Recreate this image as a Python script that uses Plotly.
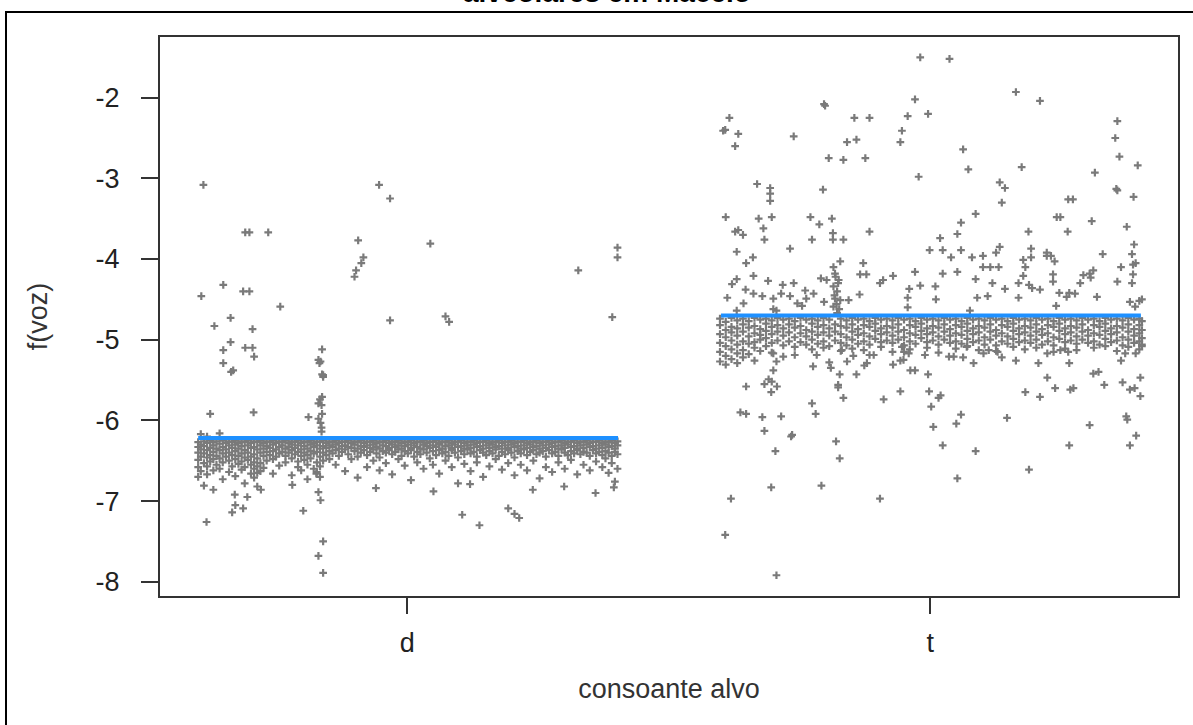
import plotly.graph_objects as go

# ---------------- data ----------------
categories = ["d", "t"]
cat_pos = [1, 2]
y_ticks = [-8, -7, -6, -5, -4, -3, -2]
group_means = [-6.22, -4.70]
jitter_span = [-0.40, 0.403]

# d : dense band beneath the mean (offset, values)
d_band = [
    (-0.400, [-6.27, -6.33, -6.40, -6.49, -6.58, -6.70]),
    (-0.395, [-6.17, -6.30, -6.36, -6.45, -6.63]),
    (-0.389, [-6.26, -6.32, -6.41, -6.53, -6.81]),
    (-0.383, [-6.20, -6.28, -6.37, -6.46, -6.57, -6.67]),
    (-0.377, [-6.25, -6.34, -6.43, -6.51]),
    (-0.371, [-6.27, -6.31, -6.39, -6.48, -6.62, -6.86]),
    (-0.365, [-6.26, -6.35, -6.44, -6.55]),
    (-0.359, [-6.16, -6.29, -6.37, -6.47, -6.60]),
    (-0.353, [-6.25, -6.33, -6.41, -6.52, -6.73]),
    (-0.347, [-6.28, -6.36, -6.45]),
    (-0.341, [-6.26, -6.31, -6.40, -6.50, -6.64]),
    (-0.335, [-6.27, -6.34, -6.43, -6.57]),
    (-0.329, [-6.25, -6.30, -6.38, -6.48, -6.69, -7.05]),
    (-0.323, [-6.28, -6.35, -6.44, -6.54]),
    (-0.317, [-6.26, -6.32, -6.41, -6.51, -6.61]),
    (-0.311, [-6.27, -6.37, -6.46, -6.58, -6.78]),
    (-0.305, [-6.25, -6.31, -6.40, -6.49]),
    (-0.299, [-6.28, -6.34, -6.45, -6.55, -6.66]),
    (-0.293, [-6.26, -6.33, -6.42, -6.52, -6.60, -6.71]),
    (-0.287, [-6.27, -6.36, -6.47, -6.57, -6.65, -6.82]),
    (-0.281, [-6.25, -6.31, -6.40, -6.53, -6.63]),
    (-0.275, [-6.28, -6.35, -6.44, -6.59]),
    (-0.269, [-6.26, -6.32, -6.39, -6.50]),
    (-0.263, [-6.27, -6.34, -6.43]),
    (-0.257, [-6.25, -6.30, -6.38, -6.48, -6.66]),
    (-0.251, [-6.28, -6.36, -6.45]),
    (-0.245, [-6.26, -6.33, -6.41, -6.56]),
    (-0.239, [-6.27, -6.31, -6.39]),
    (-0.233, [-6.25, -6.35, -6.44, -6.52]),
    (-0.227, [-6.28, -6.33, -6.40]),
    (-0.221, [-6.26, -6.30, -6.37, -6.47, -6.68]),
    (-0.215, [-6.27, -6.34, -6.42]),
    (-0.209, [-6.25, -6.31, -6.39, -6.51, -6.58]),
    (-0.203, [-6.28, -6.36, -6.44, -6.62]),
    (-0.197, [-6.26, -6.32, -6.40, -6.49]),
    (-0.191, [-6.27, -6.35, -6.43, -6.55, -6.73]),
    (-0.185, [-6.25, -6.30, -6.38, -6.47]),
    (-0.179, [-6.28, -6.33, -6.41, -6.60]),
    (-0.173, [-6.26, -6.31, -6.39, -6.52, -6.64]),
    (-0.167, [-6.27, -6.35, -6.45, -6.57, -6.70]),
    (-0.161, [-6.25, -6.32, -6.40, -6.50]),
    (-0.155, [-6.28, -6.34, -6.43]),
    (-0.149, [-6.26, -6.31, -6.38, -6.48]),
    (-0.143, [-6.27, -6.33, -6.41]),
    (-0.137, [-6.25, -6.30, -6.37, -6.55]),
    (-0.131, [-6.28, -6.35, -6.44]),
    (-0.125, [-6.26, -6.32, -6.39]),
    (-0.119, [-6.27, -6.31, -6.36, -6.63]),
    (-0.113, [-6.25, -6.33, -6.42]),
    (-0.107, [-6.28, -6.34, -6.48]),
    (-0.101, [-6.26, -6.30, -6.38]),
    (-0.095, [-6.27, -6.35, -6.45, -6.71]),
    (-0.089, [-6.25, -6.32, -6.40]),
    (-0.083, [-6.28, -6.33, -6.37]),
    (-0.077, [-6.26, -6.31, -6.43, -6.58]),
    (-0.071, [-6.27, -6.34, -6.39]),
    (-0.065, [-6.25, -6.30, -6.36, -6.50]),
    (-0.059, [-6.28, -6.33, -6.41]),
    (-0.053, [-6.26, -6.35, -6.46, -6.62]),
    (-0.047, [-6.27, -6.31, -6.38]),
    (-0.041, [-6.25, -6.32, -6.40, -6.53]),
    (-0.035, [-6.28, -6.34, -6.37]),
    (-0.029, [-6.26, -6.30, -6.42, -6.67]),
    (-0.023, [-6.27, -6.33, -6.39]),
    (-0.017, [-6.25, -6.31, -6.36, -6.48]),
    (-0.011, [-6.28, -6.35, -6.44]),
    (-0.005, [-6.26, -6.32, -6.38, -6.56]),
    (0.001, [-6.27, -6.30, -6.41]),
    (0.007, [-6.25, -6.34, -6.37, -6.74]),
    (0.013, [-6.28, -6.31, -6.45]),
    (0.019, [-6.26, -6.33, -6.39, -6.52]),
    (0.025, [-6.27, -6.35, -6.42]),
    (0.031, [-6.25, -6.30, -6.36, -6.60]),
    (0.037, [-6.28, -6.32, -6.40]),
    (0.043, [-6.26, -6.34, -6.47]),
    (0.049, [-6.27, -6.31, -6.38, -6.55]),
    (0.055, [-6.25, -6.33, -6.43]),
    (0.061, [-6.28, -6.30, -6.37, -6.66]),
    (0.067, [-6.26, -6.35, -6.41]),
    (0.073, [-6.27, -6.32, -6.39, -6.50]),
    (0.079, [-6.25, -6.31, -6.44]),
    (0.085, [-6.28, -6.34, -6.37, -6.58]),
    (0.091, [-6.26, -6.30, -6.40]),
    (0.097, [-6.27, -6.33, -6.46, -6.78]),
    (0.103, [-6.25, -6.32, -6.38]),
    (0.109, [-6.28, -6.35, -6.42, -6.54]),
    (0.115, [-6.26, -6.31, -6.36]),
    (0.121, [-6.27, -6.34, -6.41, -6.63]),
    (0.127, [-6.25, -6.30, -6.39]),
    (0.133, [-6.28, -6.33, -6.45, -6.52]),
    (0.139, [-6.26, -6.32, -6.37]),
    (0.145, [-6.27, -6.35, -6.40, -6.70]),
    (0.151, [-6.25, -6.31, -6.43]),
    (0.157, [-6.28, -6.34, -6.38, -6.57]),
    (0.163, [-6.26, -6.30, -6.41]),
    (0.169, [-6.27, -6.33, -6.36, -6.48]),
    (0.175, [-6.25, -6.32, -6.44]),
    (0.181, [-6.28, -6.35, -6.39, -6.61]),
    (0.187, [-6.26, -6.31, -6.42]),
    (0.193, [-6.27, -6.34, -6.37, -6.53]),
    (0.199, [-6.25, -6.30, -6.40]),
    (0.205, [-6.28, -6.33, -6.46, -6.68]),
    (0.211, [-6.26, -6.32, -6.38]),
    (0.217, [-6.27, -6.35, -6.41, -6.55]),
    (0.223, [-6.25, -6.31, -6.36]),
    (0.229, [-6.28, -6.34, -6.43, -6.62]),
    (0.235, [-6.26, -6.30, -6.39]),
    (0.241, [-6.27, -6.33, -6.37, -6.50]),
    (0.247, [-6.25, -6.32, -6.42]),
    (0.253, [-6.28, -6.35, -6.40, -6.72]),
    (0.259, [-6.26, -6.31, -6.38]),
    (0.265, [-6.27, -6.34, -6.45, -6.58]),
    (0.271, [-6.25, -6.30, -6.37]),
    (0.277, [-6.28, -6.33, -6.41, -6.64]),
    (0.283, [-6.26, -6.32, -6.39]),
    (0.289, [-6.27, -6.35, -6.44, -6.52]),
    (0.295, [-6.25, -6.31, -6.36]),
    (0.301, [-6.28, -6.34, -6.40, -6.60]),
    (0.307, [-6.26, -6.30, -6.43]),
    (0.313, [-6.27, -6.33, -6.38, -6.49]),
    (0.319, [-6.25, -6.32, -6.41]),
    (0.325, [-6.28, -6.35, -6.37, -6.67]),
    (0.331, [-6.26, -6.31, -6.42]),
    (0.337, [-6.27, -6.34, -6.39, -6.55]),
    (0.343, [-6.25, -6.30, -6.40]),
    (0.349, [-6.28, -6.33, -6.44, -6.62]),
    (0.355, [-6.26, -6.32, -6.37]),
    (0.361, [-6.27, -6.35, -6.41, -6.51]),
    (0.367, [-6.25, -6.31, -6.39]),
    (0.373, [-6.28, -6.34, -6.43, -6.58]),
    (0.379, [-6.26, -6.30, -6.38, -6.47]),
    (0.385, [-6.27, -6.33, -6.40, -6.65]),
    (0.391, [-6.25, -6.32, -6.44, -6.53]),
    (0.397, [-6.28, -6.35, -6.39, -6.76]),
    (0.402, [-6.26, -6.31, -6.42, -6.60]),
]

# d : scattered values away from the band (offset, value)
d_scatter = [
    (-0.390, -3.08), (-0.394, -4.46), (-0.352, -4.32), (-0.314, -4.40), (-0.302, -4.40),
    (-0.243, -4.59), (-0.369, -4.83), (-0.338, -4.73), (-0.296, -4.87), (-0.338, -5.03),
    (-0.352, -5.13), (-0.310, -5.10), (-0.296, -5.10), (-0.293, -5.21), (-0.352, -5.29),
    (-0.337, -5.40), (-0.333, -5.38), (-0.377, -5.92), (-0.294, -5.90), (-0.310, -3.67),
    (-0.302, -3.67), (-0.266, -3.67), (-0.101, -4.22), (-0.098, -4.14), (-0.088, -4.05),
    (-0.084, -3.98), (-0.094, -3.77), (-0.054, -3.08), (-0.033, -3.25), (-0.033, -4.76),
    (0.044, -3.81), (0.073, -4.71), (0.080, -4.78), (0.327, -4.14), (0.402, -3.86),
    (0.402, -3.98), (0.392, -4.72),
    (-0.163, -5.12), (-0.170, -5.25), (-0.168, -5.29), (-0.166, -5.27), (-0.163, -5.43),
    (-0.161, -5.46), (-0.161, -5.44), (-0.163, -5.71), (-0.167, -5.74), (-0.170, -5.79),
    (-0.164, -5.81), (-0.163, -5.92), (-0.189, -5.96), (-0.170, -5.98), (-0.166, -6.03),
    (-0.164, -6.09), (-0.164, -6.14),
    (-0.384, -7.26), (-0.335, -7.14), (-0.314, -7.09), (-0.306, -6.95), (-0.199, -7.12),
    (-0.174, -6.66), (-0.170, -6.89), (-0.166, -6.99), (-0.161, -7.50), (-0.170, -7.68),
    (-0.161, -7.89), (0.105, -7.17), (0.138, -7.30), (0.193, -7.09), (0.205, -7.16),
    (0.214, -7.21), (-0.330, -6.92), (-0.280, -6.86), (-0.220, -6.80), (-0.060, -6.84),
    (0.050, -6.88), (0.120, -6.79), (0.240, -6.86), (0.300, -6.82), (0.360, -6.90),
    (0.395, -6.83),
]

# t : dense band beneath the mean (offset, values)
t_band = [
    (-0.402, [-4.74, -4.82, -4.93, -5.04, -5.15, -5.27]),
    (-0.391, [-4.78, -4.88, -4.97, -5.08, -5.20, -5.31]),
    (-0.380, [-4.73, -4.84, -4.91, -5.01, -5.12, -5.24]),
    (-0.369, [-4.76, -4.86, -4.95, -5.06, -5.17, -5.29]),
    (-0.358, [-4.74, -4.81, -4.90, -5.02, -5.13, -5.22]),
    (-0.347, [-4.77, -4.85, -4.96, -5.05, -5.18]),
    (-0.336, [-4.73, -4.83, -4.92, -5.03, -5.10, -5.26]),
    (-0.325, [-4.75, -4.87, -4.94, -5.00, -5.14]),
    (-0.314, [-4.74, -4.80, -4.89, -4.98, -5.08]),
    (-0.303, [-4.76, -4.84, -4.93, -5.04, -5.16]),
    (-0.292, [-4.73, -4.82, -4.90, -5.01]),
    (-0.281, [-4.75, -4.86, -4.95, -5.07, -5.21]),
    (-0.270, [-4.74, -4.81, -4.91, -5.02]),
    (-0.259, [-4.77, -4.85, -4.97, -5.09, -5.19]),
    (-0.248, [-4.73, -4.83, -4.92, -5.03]),
    (-0.237, [-4.75, -4.88, -4.96, -5.06]),
    (-0.226, [-4.74, -4.80, -4.90, -5.00, -5.12]),
    (-0.215, [-4.76, -4.84, -4.94, -5.05]),
    (-0.204, [-4.73, -4.82, -4.91, -5.02, -5.10]),
    (-0.193, [-4.75, -4.86, -4.95, -5.08]),
    (-0.182, [-4.81, -4.90, -5.01]),
    (-0.171, [-4.74, -4.83, -4.93, -5.04, -5.14]),
    (-0.160, [-4.76, -4.85, -4.97, -5.07]),
    (-0.149, [-4.73, -4.81, -4.90, -5.00, -5.11]),
    (-0.138, [-4.75, -4.87, -4.94, -5.05]),
    (-0.127, [-4.74, -4.82, -4.92, -5.02, -5.13]),
    (-0.116, [-4.77, -4.84, -4.96, -5.06]),
    (-0.105, [-4.73, -4.80, -4.89, -4.99]),
    (-0.094, [-4.75, -4.86, -4.93, -5.03, -5.09]),
    (-0.083, [-4.74, -4.83, -4.91, -5.01]),
    (-0.072, [-4.76, -4.85, -4.95, -5.04, -5.15]),
    (-0.061, [-4.73, -4.81, -4.90, -5.00]),
    (-0.050, [-4.75, -4.88, -4.97, -5.07]),
    (-0.039, [-4.74, -4.82, -4.92, -5.02, -5.12]),
    (-0.028, [-4.77, -4.84, -4.94, -5.05]),
    (-0.017, [-4.73, -4.80, -4.89, -4.98]),
    (-0.006, [-4.75, -4.86, -4.93, -5.03, -5.10]),
    (0.005, [-4.74, -4.83, -4.91, -5.01]),
    (0.016, [-4.76, -4.85, -4.96, -5.06, -5.16]),
    (0.027, [-4.73, -4.81, -4.90, -5.00]),
    (0.038, [-4.75, -4.87, -4.95, -5.04]),
    (0.049, [-4.74, -4.82, -4.92, -5.02, -5.11]),
    (0.060, [-4.77, -4.84, -4.94, -5.05]),
    (0.071, [-4.73, -4.80, -4.89, -4.99, -5.08]),
    (0.082, [-4.75, -4.86, -4.93, -5.03]),
    (0.093, [-4.74, -4.83, -4.91, -5.01, -5.13]),
    (0.104, [-4.76, -4.85, -4.97, -5.06]),
    (0.115, [-4.73, -4.81, -4.90, -5.00]),
    (0.126, [-4.75, -4.88, -4.95, -5.07, -5.14]),
    (0.137, [-4.74, -4.82, -4.92, -5.02]),
    (0.148, [-4.77, -4.84, -4.96, -5.05]),
    (0.159, [-4.73, -4.80, -4.89, -4.99, -5.09]),
    (0.170, [-4.75, -4.86, -4.93, -5.03]),
    (0.181, [-4.74, -4.83, -4.91, -5.01, -5.12]),
    (0.192, [-4.76, -4.85, -4.95, -5.04]),
    (0.203, [-4.73, -4.81, -4.90, -5.00, -5.10]),
    (0.214, [-4.75, -4.87, -4.94, -5.06]),
    (0.225, [-4.74, -4.82, -4.92, -5.02]),
    (0.236, [-4.77, -4.84, -4.97, -5.07, -5.15]),
    (0.247, [-4.73, -4.80, -4.89, -4.99]),
    (0.258, [-4.75, -4.86, -4.93, -5.03, -5.11]),
    (0.269, [-4.74, -4.83, -4.91, -5.01]),
    (0.280, [-4.76, -4.85, -4.96, -5.05, -5.13]),
    (0.291, [-4.73, -4.81, -4.90, -5.00]),
    (0.302, [-4.75, -4.88, -4.95, -5.04]),
    (0.313, [-4.74, -4.82, -4.92, -5.02, -5.10]),
    (0.324, [-4.77, -4.84, -4.94, -5.06]),
    (0.335, [-4.73, -4.80, -4.89, -4.99, -5.08]),
    (0.346, [-4.75, -4.86, -4.93, -5.03]),
    (0.357, [-4.74, -4.83, -4.91, -5.01, -5.14]),
    (0.368, [-4.76, -4.85, -4.97, -5.07]),
    (0.379, [-4.73, -4.81, -4.90, -5.00, -5.09]),
    (0.390, [-4.75, -4.87, -4.95, -5.04]),
    (0.400, [-4.74, -4.82, -4.92, -5.02, -5.12]),
    (0.405, [-4.77, -4.88, -4.98, -5.06]),
]

# t : scattered values away from the band (offset, value)
t_scatter = [
    (-0.019, -1.50), (0.037, -1.52), (0.164, -1.93), (0.210, -2.04), (-0.029, -2.02),
    (-0.004, -2.20), (-0.043, -2.23), (-0.054, -2.41), (-0.057, -2.55), (-0.203, -2.08),
    (-0.201, -2.10), (-0.145, -2.25), (-0.116, -2.25), (-0.159, -2.55), (-0.141, -2.52),
    (-0.194, -2.75), (-0.166, -2.77), (-0.124, -2.75), (-0.261, -2.48), (-0.384, -2.25),
    (-0.396, -2.41), (-0.392, -2.40), (-0.367, -2.45), (-0.373, -2.60), (0.063, -2.64),
    (0.073, -2.89), (-0.022, -2.98), (0.358, -2.29), (0.354, -2.50), (0.362, -2.73),
    (0.175, -2.86), (0.397, -2.84), (0.315, -2.93), (0.356, -3.13), (0.358, -3.15),
    (0.389, -3.23), (0.264, -3.26), (0.273, -3.26), (0.133, -3.05), (0.143, -3.12),
    (0.137, -3.30), (-0.331, -3.07), (-0.306, -3.12), (-0.306, -3.19), (-0.306, -3.28),
    (-0.303, -3.48), (-0.205, -3.14), (-0.391, -3.48), (-0.328, -3.50), (-0.319, -3.62),
    (-0.317, -3.76), (-0.373, -3.66), (-0.367, -3.64), (-0.358, -3.70), (-0.229, -3.48),
    (-0.212, -3.57), (-0.188, -3.50), (-0.226, -3.76), (-0.186, -3.68), (-0.186, -3.76),
    (-0.166, -3.76), (-0.116, -3.66), (-0.268, -3.87), (-0.370, -3.91), (-0.339, -3.98),
    (-0.352, -4.05), (-0.338, -4.21), (-0.379, -4.31), (-0.370, -4.25), (-0.353, -4.38),
    (-0.338, -4.43), (-0.388, -4.48), (-0.357, -4.55), (-0.321, -4.46), (-0.310, -4.27),
    (-0.300, -4.49), (-0.300, -4.62), (-0.294, -4.64), (-0.370, -4.64), (-0.282, -4.32),
    (-0.285, -4.43), (-0.268, -4.46), (-0.261, -4.30), (-0.254, -4.55), (-0.245, -4.58),
    (-0.237, -4.49), (-0.223, -4.43), (-0.239, -4.39), (-0.209, -4.24), (-0.198, -4.26),
    (-0.203, -4.53), (-0.185, -4.10), (-0.182, -4.18), (-0.175, -4.26), (-0.172, -4.03),
    (-0.185, -4.34), (-0.178, -4.40), (-0.182, -4.49), (-0.172, -4.51), (-0.185, -4.59),
    (-0.178, -4.67), (-0.176, -4.30), (-0.183, -4.45), (-0.179, -4.56), (-0.174, -4.62),
    (-0.181, -4.22), (-0.156, -4.51), (-0.135, -4.44), (-0.128, -4.05), (-0.134, -4.19),
    (-0.122, -4.19), (-0.096, -4.30), (-0.090, -4.26), (-0.071, -4.21), (-0.029, -4.16),
    (-0.019, -4.33), (-0.040, -4.37), (-0.043, -4.48), (-0.043, -4.60), (-0.001, -3.89),
    (0.019, -3.74), (0.024, -3.89), (0.010, -4.34), (0.011, -4.50), (0.024, -4.18),
    (0.040, -3.98), (0.052, -4.16), (0.052, -3.69), (0.059, -3.55), (0.059, -3.89),
    (0.076, -4.64), (0.080, -3.98), (0.101, -3.96), (0.087, -4.25), (0.087, -3.44),
    (0.090, -4.48), (0.101, -4.10), (0.115, -4.10), (0.131, -4.10), (0.110, -4.46),
    (0.119, -4.30), (0.126, -3.92), (0.133, -3.85), (0.143, -4.37), (0.169, -4.48),
    (0.169, -4.30), (0.178, -4.01), (0.182, -4.10), (0.178, -4.21), (0.193, -3.98),
    (0.193, -3.87), (0.189, -4.32), (0.195, -4.36), (0.210, -4.38), (0.188, -3.66),
    (0.223, -3.92), (0.231, -3.96), (0.238, -4.03), (0.223, -3.96), (0.235, -4.19),
    (0.235, -4.28), (0.242, -3.48), (0.249, -3.48), (0.263, -3.66), (0.241, -4.58),
    (0.247, -4.42), (0.261, -4.47), (0.266, -4.42), (0.277, -4.43), (0.287, -4.30),
    (0.293, -4.20), (0.305, -4.18), (0.312, -4.14), (0.307, -4.23), (0.309, -3.53),
    (0.330, -3.94), (0.319, -4.47), (0.358, -4.28), (0.365, -4.10), (0.376, -3.60),
    (0.388, -4.07), (0.393, -4.05), (0.386, -3.94), (0.390, -3.82), (0.388, -4.19),
    (0.386, -4.30), (0.382, -4.53), (0.392, -4.59), (0.400, -4.52), (0.405, -4.50),
    (-0.352, -5.58), (-0.363, -5.90), (-0.352, -5.92), (-0.321, -5.96), (-0.317, -6.13),
    (-0.296, -6.38), (-0.304, -6.83), (-0.381, -6.97), (-0.285, -5.95), (-0.266, -6.20),
    (-0.264, -6.18), (-0.317, -5.55), (-0.309, -5.49), (-0.303, -5.52), (-0.293, -5.58),
    (-0.304, -5.65), (-0.300, -5.38), (-0.294, -5.27), (-0.300, -5.17), (-0.226, -5.79),
    (-0.219, -5.92), (-0.224, -5.33), (-0.217, -5.19), (-0.208, -6.81), (-0.193, -5.28),
    (-0.190, -5.35), (-0.180, -6.26), (-0.173, -6.47), (-0.176, -5.56), (-0.176, -5.59),
    (-0.166, -5.72), (-0.173, -5.43), (-0.169, -5.13), (-0.159, -5.27), (-0.147, -5.20),
    (-0.141, -5.43), (-0.126, -5.32), (-0.121, -5.29), (-0.116, -5.19), (-0.108, -5.19),
    (-0.096, -6.97), (-0.089, -5.74), (-0.071, -5.31), (-0.057, -5.26), (-0.051, -5.25),
    (-0.057, -5.64), (-0.054, -5.09), (-0.050, -5.15), (-0.041, -5.17), (-0.038, -5.38),
    (-0.029, -5.38), (-0.010, -5.19), (-0.004, -5.43), (-0.002, -5.64), (0.016, -5.72),
    (0.020, -5.69), (0.002, -5.83), (0.006, -6.08), (0.024, -6.31), (0.036, -5.21),
    (0.045, -5.21), (0.050, -6.04), (0.059, -5.93), (0.052, -6.72), (0.063, -5.22),
    (0.070, -5.09), (0.083, -5.29), (0.087, -6.38), (0.102, -5.17), (0.112, -5.13),
    (0.129, -5.15), (0.137, -5.22), (0.147, -5.97), (0.164, -5.26), (0.182, -5.65),
    (0.189, -6.61), (0.207, -5.29), (0.210, -5.71), (0.224, -5.17), (0.224, -5.47),
    (0.239, -5.60), (0.249, -5.13), (0.264, -5.15), (0.266, -5.29), (0.266, -6.31),
    (0.268, -5.62), (0.274, -5.60), (0.305, -6.06), (0.312, -5.42), (0.322, -5.40),
    (0.333, -5.56), (0.365, -5.26), (0.368, -5.53), (0.373, -5.17), (0.375, -5.95),
    (0.377, -5.99), (0.382, -5.62), (0.391, -5.60), (0.382, -6.31), (0.394, -6.19),
    (0.393, -5.17), (0.402, -5.47), (0.402, -5.70), (0.405, -5.08), (-0.392, -7.42),
    (-0.294, -7.92),
]

# ---------------- build ----------------
def flatten(band, scatter, base):
    xs, ys = [], []
    for off, vals in band:
        for v in vals:
            xs.append(base + off)
            ys.append(v)
    for off, v in scatter:
        xs.append(base + off)
        ys.append(v)
    return xs, ys

FONT = "Liberation Sans, Arial, sans-serif"
GRAY = "#7a7a7a"
BLUE = "#1E90FF"

fig = go.Figure()
groups = [(d_band, d_scatter), (t_band, t_scatter)]
for (band, scat), pos in zip(groups, cat_pos):
    xs, ys = flatten(band, scat, pos)
    fig.add_trace(go.Scatter(
        x=xs, y=ys, mode="markers",
        marker=dict(symbol="cross-thin", size=5.5, color=GRAY,
                    line=dict(color=GRAY, width=2.2)),
        showlegend=False, hoverinfo="skip",
    ))

for pos, m in zip(cat_pos, group_means):
    fig.add_trace(go.Scatter(
        x=[pos + jitter_span[0], pos + jitter_span[1]], y=[m, m],
        mode="lines", line=dict(color=BLUE, width=4),
        showlegend=False, hoverinfo="skip",
    ))

L, R, T, B = 160, 15, 37, 129
W, H = 1193, 725
pw, ph = W - L - R, H - T - B

fig.update_layout(
    width=W, height=H,
    margin=dict(l=L, r=R, t=T, b=B, pad=0),
    paper_bgcolor="white", plot_bgcolor="white",
    font=dict(family=FONT, size=27, color="#222222"),
    xaxis=dict(
        range=[0.527, 2.474], tickvals=cat_pos, ticktext=categories,
        ticks="outside", ticklen=16, tickwidth=1.5, tickcolor="#333333",
        showline=True, mirror=True, linecolor="#333333", linewidth=2,
        showgrid=False, zeroline=False, ticklabelstandoff=6,
        tickfont=dict(size=27, color="#222222"),
        title=dict(text="consoante alvo", font=dict(size=27, color="#333333"), standoff=22),
    ),
    yaxis=dict(
        range=[-8.177, -1.248], tickvals=y_ticks, ticktext=[str(v) for v in y_ticks],
        ticks="outside", ticklen=17, tickwidth=1.5, tickcolor="#333333",
        showline=True, mirror=True, linecolor="#333333", linewidth=2,
        showgrid=False, zeroline=False, ticklabelstandoff=16,
        tickfont=dict(size=27, color="#222222"),
        title=dict(text="f(voz)", font=dict(size=27, color="#333333"), standoff=40),
    ),
    shapes=[dict(
        type="rect", xref="paper", yref="paper",
        x0=(6 - L) / pw, x1=(W + 10 - L) / pw,
        y0=-(B + 10) / ph, y1=1 + (T - 12) / ph,
        line=dict(color="black", width=2), layer="above",
    )],
    annotations=[dict(
        text="<b>alveolares em Maceió</b>", xref="paper", yref="paper",
        x=(607 - L) / pw, y=1 + (T - 10) / ph, xanchor="center", yanchor="bottom",
        showarrow=False, font=dict(family=FONT, size=28, color="black"),
    )],
)

fig.write_html("out.html", config={"displayModeBar": False},
               post_script="document.body.style.margin='0';")
